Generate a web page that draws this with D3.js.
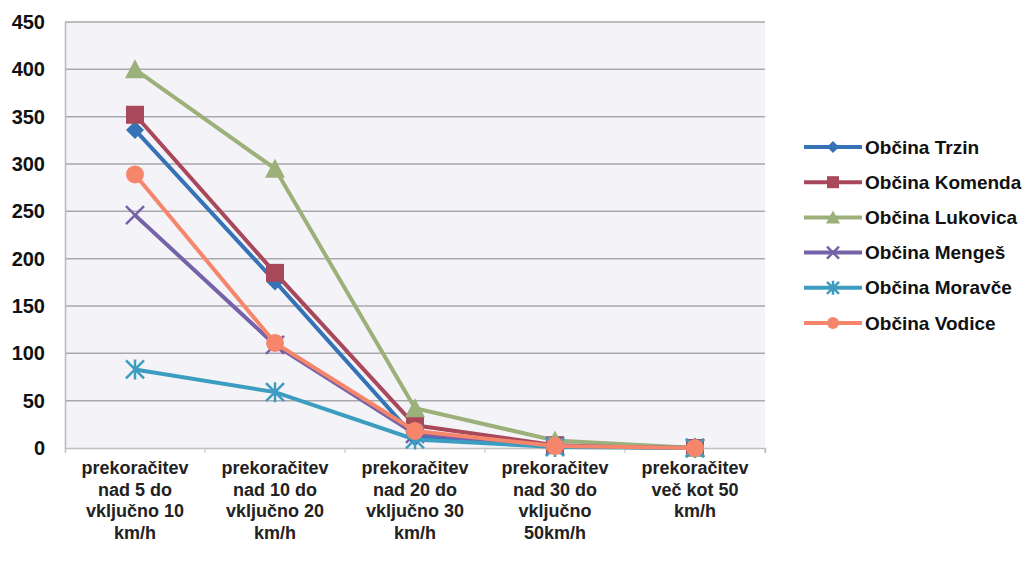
<!DOCTYPE html>
<html><head><meta charset="utf-8">
<script src="https://cdn.jsdelivr.net/npm/d3@7"></script>
<style>body{margin:0;background:#fff}svg{display:block}
.sf{font-family:"Liberation Sans",Arial,"DejaVu Sans",sans-serif}</style>
</head><body><svg id="c" width="1032" height="570"></svg>
<script>
const categories = [
  ["prekoračitev","nad 5 do","vključno 10","km/h"],
  ["prekoračitev","nad 10 do","vključno 20","km/h"],
  ["prekoračitev","nad 20 do","vključno 30","km/h"],
  ["prekoračitev","nad 30  do","vključno","50km/h"],
  ["prekoračitev","več kot 50","km/h"]
];
const seriesNames = ["Občina Trzin","Občina Komenda","Občina Lukovica","Občina Mengeš","Občina Moravče","Občina Vodice"];
const trzin    = [336, 176, 11, 2, 0];
const komenda  = [352, 185, 24, 3, 0];
const lukovica = [400, 295, 42, 8, 0];
const menges   = [246, 109, 15, 2, 0];
const moravce  = [83, 59, 9, 1, 0];
const vodice   = [289, 111, 18, 2, 0];
const seriesValues = [trzin, komenda, lukovica, menges, moravce, vodice];
const colors = ["#3572b6","#a8485a","#9cb07a","#7562a8","#3c9dc0","#f5866b"];
const markers = ["diamond","square","triangle","x","asterisk","circle"];
const yTicks = [0,50,100,150,200,250,300,350,400,450];

const svg = d3.select("#c");
const L=65,R=765,T=22,B=448;
const x = d3.scaleBand().domain(d3.range(categories.length)).range([L,R]);
const y = d3.scaleLinear().domain([0,450]).range([B,T]);

svg.append("rect").attr("x",L).attr("y",T).attr("width",R-L).attr("height",B-T).attr("fill","#f4f4f8");
svg.append("g").selectAll("line").data(yTicks.filter(d=>d>0)).join("line")
  .attr("x1",L).attr("x2",R).attr("y1",d=>y(d)).attr("y2",d=>y(d))
  .attr("stroke","#a9a9ad").attr("stroke-width",1.5);

const ya = svg.append("g").attr("transform",`translate(${L},0)`)
  .call(d3.axisLeft(y).tickValues(yTicks).tickSize(0).tickPadding(20));
ya.attr("font-family",null);
ya.select(".domain").attr("stroke","#b8b8bc").attr("stroke-width",1.5);
ya.selectAll("text").attr("class","sf").attr("font-weight","bold").attr("font-size",20).attr("fill","#111");

const xa = svg.append("g").attr("transform",`translate(0,${B})`)
  .call(d3.axisBottom(x).tickSize(5).tickFormat(""));
xa.attr("font-family",null);
xa.select(".domain").attr("stroke","#c0c0c4").attr("stroke-width",1.5);
xa.selectAll(".tick line").attr("transform",`translate(${x.bandwidth()/2},0)`).attr("stroke","#c0c0c4");
xa.selectAll(".tick").each(function(d){
  const t = d3.select(this).append("text").attr("class","sf").attr("font-size",18)
    .attr("font-weight","bold").attr("fill","#222").attr("text-anchor","middle");
  categories[d].forEach((s,i)=>t.append("tspan").attr("x",0).attr("y",26+i*21.5).text(s));
});

const cx = i => x(i)+x.bandwidth()/2;
const line = d3.line().x((d,i)=>cx(i)).y(d=>y(d));

function marker(g, type, color, px, py, s){
  if(type==="diamond") g.append("path").attr("d",`M${px},${py-s}L${px+s},${py}L${px},${py+s}L${px-s},${py}Z`).attr("fill",color);
  else if(type==="square") g.append("rect").attr("x",px-s).attr("y",py-s).attr("width",2*s).attr("height",2*s).attr("fill",color);
  else if(type==="triangle") g.append("path").attr("d",`M${px},${py-s-1}L${px+s+1},${py+s}L${px-s-1},${py+s}Z`).attr("fill",color);
  else if(type==="circle") g.append("circle").attr("cx",px).attr("cy",py).attr("r",s).attr("fill",color);
  else if(type==="x") g.append("path").attr("d",`M${px-s},${py-s}L${px+s},${py+s}M${px+s},${py-s}L${px-s},${py+s}`).attr("stroke",color).attr("stroke-width",2.5);
  else if(type==="asterisk") g.append("path").attr("d",`M${px-s},${py-s}L${px+s},${py+s}M${px+s},${py-s}L${px-s},${py+s}M${px},${py-s-1}L${px},${py+s+1}`).attr("stroke",color).attr("stroke-width",2.5);
}

seriesValues.forEach((vals,k)=>{
  const g = svg.append("g");
  g.append("path").datum(vals).attr("d",line).attr("fill","none").attr("stroke",colors[k]).attr("stroke-width",4);
  vals.forEach((v,i)=>marker(g, markers[k], colors[k], cx(i), y(v), 9));
});

const lg = svg.append("g");
seriesNames.forEach((n,k)=>{
  const yy = 147 + k*35.2;
  lg.append("line").attr("x1",804).attr("x2",862).attr("y1",yy).attr("y2",yy).attr("stroke",colors[k]).attr("stroke-width",4);
  marker(lg, markers[k], colors[k], 833, yy, 6);
  lg.append("text").attr("class","sf").attr("x",865).attr("y",yy+6.5).attr("font-weight","bold")
    .attr("font-size",19).attr("fill","#111").text(n);
});
</script></body></html>
